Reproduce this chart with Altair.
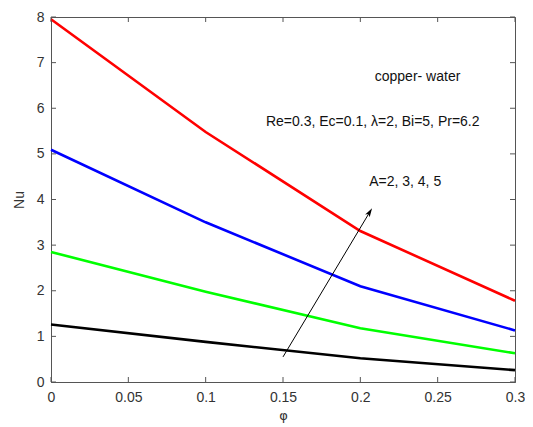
import altair as alt
import pandas as pd

# ---- data ----
phi = [0.0, 0.1, 0.2, 0.3]
A_values = [2, 3, 4, 5]
nu_A2 = [1.26, 0.88, 0.52, 0.26]
nu_A3 = [2.85, 1.98, 1.18, 0.63]
nu_A4 = [5.09, 3.50, 2.10, 1.13]
nu_A5 = [7.95, 5.48, 3.31, 1.78]
series_colors = ["#000000", "#00ff00", "#0000ff", "#ff0000"]

x_ticks = [0, 0.05, 0.1, 0.15, 0.2, 0.25, 0.3]
y_ticks = [0, 1, 2, 3, 4, 5, 6, 7, 8]

annot_text = ["copper- water", "Re=0.3, Ec=0.1, \u03bb=2, Bi=5, Pr=6.2", "A=2, 3, 4, 5"]
annot_phi = [0.237, 0.208, 0.229]
annot_nu = [6.68, 5.69, 4.38]

arrow_phi = [0.150, 0.206]
arrow_nu = [0.55, 3.72]

# ---- build tables ----
rows = []
for a, vals in zip(A_values, [nu_A2, nu_A3, nu_A4, nu_A5]):
    for p, v in zip(phi, vals):
        rows.append({"phi": p, "Nu": v, "A": a})
df = pd.DataFrame(rows)
df_annot = pd.DataFrame({"phi": annot_phi, "Nu": annot_nu, "text": annot_text})
df_arrow = pd.DataFrame({"phi": arrow_phi, "Nu": arrow_nu})
df_head = df_arrow.iloc[[1]]
df_xt = pd.DataFrame({"phi": x_ticks})
df_yt = pd.DataFrame({"Nu": y_ticks})

W, H = 464, 365
FONT = "Liberation Sans"
AX = "#555555"

xscale = alt.Scale(domain=[0, 0.3], nice=False, zero=False)
yscale = alt.Scale(domain=[0, 8], nice=False, zero=False)
xaxis = alt.Axis(values=x_ticks, title="\u03c6", format="~g", labelPadding=8,
                 titlePadding=5, labelFlush=False, titleFont="DejaVu Sans", titleFontSize=13)
yaxis = alt.Axis(values=y_ticks, title="Nu", labelPadding=7, titlePadding=10, labelFlush=False)


def X(f="phi"):
    return alt.X(f + ":Q", scale=xscale, axis=xaxis)


def Y(f="Nu"):
    return alt.Y(f + ":Q", scale=yscale, axis=yaxis)


lines = alt.Chart(df).mark_line(strokeWidth=2.6).encode(
    x=X(), y=Y(),
    color=alt.Color("A:O", scale=alt.Scale(domain=A_values, range=series_colors), legend=None),
    order=alt.Order("phi:Q"),
)

tick_b = alt.Chart(df_xt).mark_rule(color=AX, strokeWidth=1).encode(
    x=X(), y=alt.value(H), y2=alt.value(H - 5))
tick_t = alt.Chart(df_xt).mark_rule(color=AX, strokeWidth=1).encode(
    x=X(), y=alt.value(0), y2=alt.value(5))
tick_l = alt.Chart(df_yt).mark_rule(color=AX, strokeWidth=1).encode(
    y=Y(), x=alt.value(0), x2=alt.value(5))
tick_r = alt.Chart(df_yt).mark_rule(color=AX, strokeWidth=1).encode(
    y=Y(), x=alt.value(W), x2=alt.value(W - 5))

texts = alt.Chart(df_annot).mark_text(font=FONT, fontSize=14, color="#111111").encode(
    x=X(), y=Y(), text="text:N",
)

arrow_line = alt.Chart(df_arrow).mark_line(color="black", strokeWidth=1).encode(
    x=X(), y=Y(),
)
arrow_head = alt.Chart(df_head).mark_point(
    shape="M0,-1 L0.55,0.9 L0,0.45 L-0.55,0.9 Z", filled=True, color="black",
    opacity=1, size=90, angle=31,
).encode(x=X(), y=Y())

chart = alt.layer(
    lines, arrow_line, arrow_head, texts, tick_b, tick_t, tick_l, tick_r
).properties(
    width=W, height=H,
    autosize=alt.AutoSizeParams(type="none"),
    padding={"left": 43, "top": 9, "right": 10, "bottom": 44},
    background="white",
).configure_view(
    stroke=AX, strokeWidth=1
).configure_axis(
    grid=False, ticks=False, tickSize=0,
    domainColor=AX, domainWidth=1,
    labelFont=FONT, labelFontSize=14, labelColor="#333333",
    titleFont=FONT, titleFontSize=14, titleColor="#333333", titleFontWeight="normal",
)

chart.save("out.html", embed_options={"renderer": "svg", "actions": False})
